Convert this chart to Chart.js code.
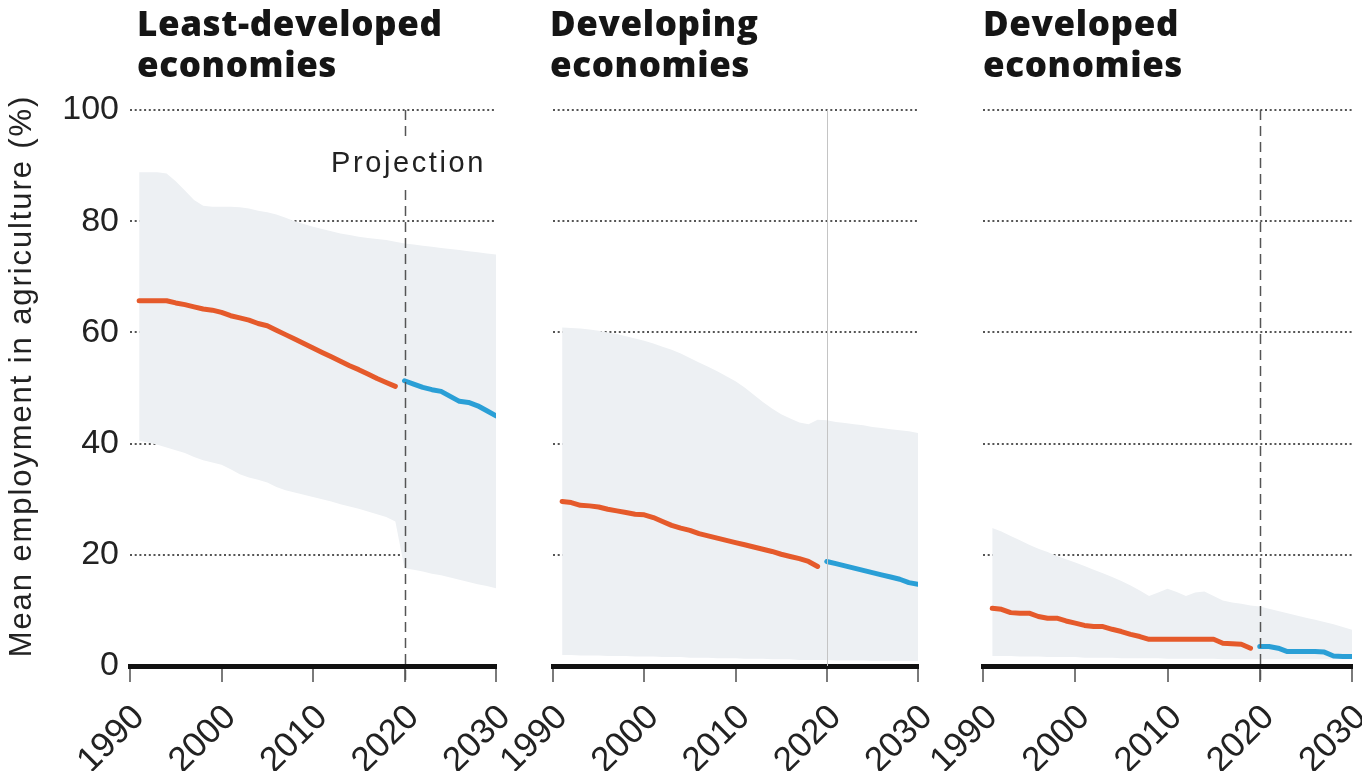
<!DOCTYPE html>
<html>
<head>
<meta charset="utf-8">
<script src="https://cdn.jsdelivr.net/npm/chart.js@4.4.1/dist/chart.umd.min.js"></script>
<style>
  html, body { margin: 0; background: #fff; }
  #wrap { position: relative; width: 1362px; height: 771px; overflow: hidden; }
  #wrap canvas { position: absolute; left: 0; top: 0; }
  .title {
    position: absolute; top: 2px;
    font-family: "Open Sans", "Liberation Sans", Arial, sans-serif;
    font-weight: 800; font-size: 35px;
    letter-spacing: 0.6px; line-height: 41px; color: #151515;
    white-space: nowrap;
  }
</style>
</head>
<body>
<div id="wrap">
  <canvas id="ldc" width="1362" height="771"></canvas>
  <canvas id="dev" width="1362" height="771"></canvas>
  <canvas id="dvd" width="1362" height="771"></canvas>
  <div class="title" style="left:137px">Least-developed<br>economies</div>
  <div class="title" style="left:550px">Developing<br>economies</div>
  <div class="title" style="left:983px">Developed<br>economies</div>
</div>
<script>
// years
const HIST_YEARS = [1991, 1992, 1993, 1994, 1995, 1996, 1997, 1998, 1999, 2000,
  2001, 2002, 2003, 2004, 2005, 2006, 2007, 2008, 2009, 2010,
  2011, 2012, 2013, 2014, 2015, 2016, 2017, 2018, 2019];
const PROJ_YEARS = [2020, 2021, 2022, 2023, 2024, 2025, 2026, 2027, 2028, 2029, 2030];
const BAND_YEARS = HIST_YEARS.concat(PROJ_YEARS);
const X_TICKS = [1990, 2000, 2010, 2020, 2030];
const Y_TICKS = [0, 20, 40, 60, 80, 100];
const PROJECTION_START = 2020;

// Least-developed economies
const ldcHist = [65.7, 65.7, 65.7, 65.7, 65.3, 65.0, 64.6, 64.2, 64.0, 63.6,
  63.0, 62.6, 62.2, 61.6, 61.2, 60.4, 59.6, 58.8, 58.0, 57.2,
  56.4, 55.6, 54.8, 54.0, 53.3, 52.5, 51.7, 51.0, 50.3];
const ldcProj = [51.3, 50.7, 50.1, 49.7, 49.4, 48.5, 47.6, 47.4, 46.8, 45.9, 45.0];
const ldcHigh = [88.8, 88.8, 88.8, 88.6, 87.2, 85.5, 83.8, 82.8, 82.6, 82.6,
  82.6, 82.5, 82.3, 81.9, 81.6, 81.2, 80.6, 80.0, 79.5, 79.0,
  78.6, 78.2, 77.8, 77.5, 77.2, 77.0, 76.8, 76.6, 76.3, 76.0,
  75.8, 75.6, 75.4, 75.2, 75.0, 74.8, 74.6, 74.4, 74.2, 74.0];
const ldcLow = [40.5, 40.2, 39.8, 39.3, 38.8, 38.3, 37.6, 37.0, 36.6, 36.2,
  35.4, 34.5, 33.9, 33.5, 33.0, 32.2, 31.6, 31.2, 30.8, 30.4,
  30.0, 29.6, 29.1, 28.7, 28.3, 27.8, 27.3, 26.8, 26.0, 17.6,
  17.3, 17.0, 16.6, 16.3, 15.9, 15.5, 15.1, 14.7, 14.4, 14.0];

// Developing economies
const devHist = [29.6, 29.4, 28.9, 28.8, 28.6, 28.2, 27.9, 27.6, 27.3, 27.2,
  26.7, 26.0, 25.3, 24.8, 24.4, 23.8, 23.4, 23.0, 22.6, 22.2,
  21.8, 21.4, 21.0, 20.6, 20.1, 19.7, 19.3, 18.8, 17.9];
const devProj = [18.8, 18.4, 18.0, 17.6, 17.2, 16.8, 16.4, 16.0, 15.6, 15.0, 14.7];
const devHigh = [60.9, 60.8, 60.7, 60.5, 60.3, 60.0, 59.7, 59.3, 58.9, 58.5,
  58.0, 57.4, 56.9, 56.2, 55.4, 54.6, 53.8, 53.0, 52.1, 51.2,
  50.1, 48.8, 47.5, 46.3, 45.3, 44.5, 43.8, 43.5, 44.3, 44.2,
  43.9, 43.7, 43.5, 43.3, 43.0, 42.8, 42.6, 42.4, 42.2, 41.9];
const devLow = [2.0, 2.0, 1.9, 1.9, 1.9, 1.8, 1.8, 1.8, 1.7, 1.7,
  1.7, 1.6, 1.6, 1.6, 1.5, 1.5, 1.5, 1.4, 1.4, 1.4,
  1.3, 1.3, 1.3, 1.2, 1.2, 1.2, 1.1, 1.1, 1.1, 1.1,
  1.0, 1.0, 1.0, 1.0, 0.9, 0.9, 0.9, 0.9, 0.9, 0.9];

// Developed economies
const dvdHist = [10.4, 10.2, 9.6, 9.5, 9.5, 8.9, 8.6, 8.6, 8.1, 7.7,
  7.3, 7.1, 7.1, 6.6, 6.2, 5.7, 5.3, 4.8, 4.8, 4.8,
  4.8, 4.8, 4.8, 4.8, 4.8, 4.1, 4.0, 3.9, 3.2];
const dvdProj = [3.5, 3.5, 3.2, 2.6, 2.6, 2.6, 2.6, 2.5, 1.8, 1.7, 1.7];
const dvdHigh = [24.8, 24.2, 23.4, 22.6, 21.8, 21.1, 20.5, 19.8, 19.2, 18.6,
  18.0, 17.3, 16.7, 16.0, 15.3, 14.5, 13.6, 12.6, 13.2, 13.9,
  13.3, 12.6, 13.2, 13.4, 12.6, 11.8, 11.4, 11.2, 10.9, 10.7,
  10.3, 9.9, 9.5, 9.1, 8.7, 8.3, 7.9, 7.5, 7.0, 6.5];
const dvdLow = [1.8, 1.8, 1.8, 1.7, 1.7, 1.7, 1.6, 1.6, 1.6, 1.6,
  1.5, 1.5, 1.5, 1.5, 1.4, 1.4, 1.4, 1.4, 1.4, 1.3,
  1.3, 1.3, 1.3, 1.3, 1.3, 1.2, 1.2, 1.2, 1.2, 1.2,
  1.2, 1.2, 1.2, 1.2, 1.2, 1.2, 1.2, 1.2, 1.2, 1.2];

const ORANGE = '#e55a2b';
const BLUE = '#2a9fd6';
const BAND = '#edf0f3';
const FONT = '"Liberation Sans", Arial, sans-serif';

const zip = (xs, ys) => xs.map((x, i) => ({ x, y: ys[i] }));

// vertical marker at the projection start, plus the y title on the first panel
const guidePlugin = {
  id: 'guide',
  afterDraw(chart, args, opts) {
    const { ctx, chartArea, scales } = chart;
    const x = Math.round(scales.x.getPixelForValue(opts.year)) + 0.5;
    ctx.save();
    ctx.strokeStyle = opts.color;
    ctx.lineWidth = opts.width;
    ctx.setLineDash(opts.dash);
    ctx.beginPath();
    ctx.moveTo(x, chartArea.top);
    ctx.lineTo(x, chartArea.bottom + opts.below);
    ctx.stroke();
    ctx.setLineDash([]);

    if (opts.label) {
      ctx.font = '29px ' + FONT;
      ctx.letterSpacing = '2.6px';
      const w = ctx.measureText(opts.label).width;
      const top = chartArea.top;
      ctx.fillStyle = '#fff';
      ctx.fillRect(x - w / 2 - 2, top + 30, w + 4, 47);
      ctx.fillStyle = '#222';
      ctx.textAlign = 'center';
      ctx.textBaseline = 'alphabetic';
      ctx.fillText(opts.label, x + 3, top + 62);
    }

    if (opts.yTitle) {
      ctx.font = '31px ' + FONT;
      ctx.letterSpacing = '1.9px';
      ctx.fillStyle = '#222';
      ctx.textAlign = 'center';
      ctx.textBaseline = 'alphabetic';
      ctx.translate(31, 376);
      ctx.rotate(-Math.PI / 2);
      ctx.fillText(opts.yTitle, 0, 0);
    }
    ctx.restore();
  }
};

function makePanel(id, hist, proj, high, low, cfg) {
  new Chart(document.getElementById(id), {
    type: 'line',
    data: {
      datasets: [
        { data: zip(BAND_YEARS, low), borderColor: 'transparent', borderWidth: 0,
          pointRadius: 0, fill: false, order: 3 },
        { data: zip(BAND_YEARS, high), borderColor: 'transparent', borderWidth: 0,
          pointRadius: 0, backgroundColor: BAND, fill: '-1', order: 2 },
        { data: zip(HIST_YEARS, hist), borderColor: ORANGE, borderWidth: 5,
          pointRadius: 0, fill: false, borderJoinStyle: 'round', borderCapStyle: 'round', order: 1 },
        { data: zip(PROJ_YEARS, proj), borderColor: BLUE, borderWidth: 5,
          pointRadius: 0, fill: false, borderJoinStyle: 'round', borderCapStyle: 'round', order: 0 }
      ]
    },
    options: {
      responsive: false,
      animation: false,
      events: [],
      layout: { padding: { left: cfg.padLeft, right: cfg.padRight, top: 110, bottom: 0 } },
      plugins: {
        legend: { display: false },
        tooltip: { enabled: false },
        guide: {
          year: PROJECTION_START,
          color: cfg.guideColor,
          width: cfg.guideWidth,
          dash: cfg.guideDash,
          below: cfg.guideBelow,
          label: cfg.label,
          yTitle: cfg.yTitle
        }
      },
      scales: {
        x: {
          type: 'linear',
          min: X_TICKS[0],
          max: X_TICKS[X_TICKS.length - 1],
          afterBuildTicks: s => { s.ticks = X_TICKS.map(v => ({ value: v })); },
          afterFit: s => {
            s.height = 105;
            // rotated labels may hang past the plot edges; keep the plot width fixed
            s.paddingLeft = 0;
            s.paddingRight = 0;
          },
          ticks: {
            autoSkip: false,
            minRotation: 45,
            maxRotation: 45,
            padding: 15,
            labelOffset: 9,
            color: '#222',
            font: { family: FONT, size: 35 },
            callback: v => String(v)
          },
          grid: { drawOnChartArea: false, drawTicks: true, tickLength: 16, color: '#7a7a7a', lineWidth: 2 },
          border: { display: true, color: '#111', width: 5 }
        },
        y: {
          min: 0,
          max: 100,
          afterBuildTicks: s => { s.ticks = Y_TICKS.map(v => ({ value: v })); },
          afterFit: s => { s.width = cfg.yWidth; },
          ticks: {
            display: cfg.yLabels,
            padding: 11,
            color: '#222',
            font: { family: FONT, size: 34 }
          },
          grid: { drawTicks: false, color: '#555', lineWidth: 2 },
          border: { display: false, dash: [2, 2.7] }
        }
      }
    },
    plugins: [guidePlugin]
  });
}

makePanel('ldc', ldcHist, ldcProj, ldcHigh, ldcLow, {
  padLeft: 0, padRight: 866, yWidth: 130, yLabels: true,
  guideColor: '#555', guideWidth: 1.5, guideDash: [10, 6], guideBelow: 18,
  label: 'Projection', yTitle: 'Mean employment in agriculture (%)'
});
makePanel('dev', devHist, devProj, devHigh, devLow, {
  padLeft: 553, padRight: 444, yWidth: 0, yLabels: false,
  guideColor: '#c4c4c4', guideWidth: 1, guideDash: [], guideBelow: 0,
  label: null, yTitle: null
});
makePanel('dvd', dvdHist, dvdProj, dvdHigh, dvdLow, {
  padLeft: 983, padRight: 10, yWidth: 0, yLabels: false,
  guideColor: '#555', guideWidth: 1.5, guideDash: [10, 6], guideBelow: 18,
  label: null, yTitle: null
});
</script>
</body>
</html>
